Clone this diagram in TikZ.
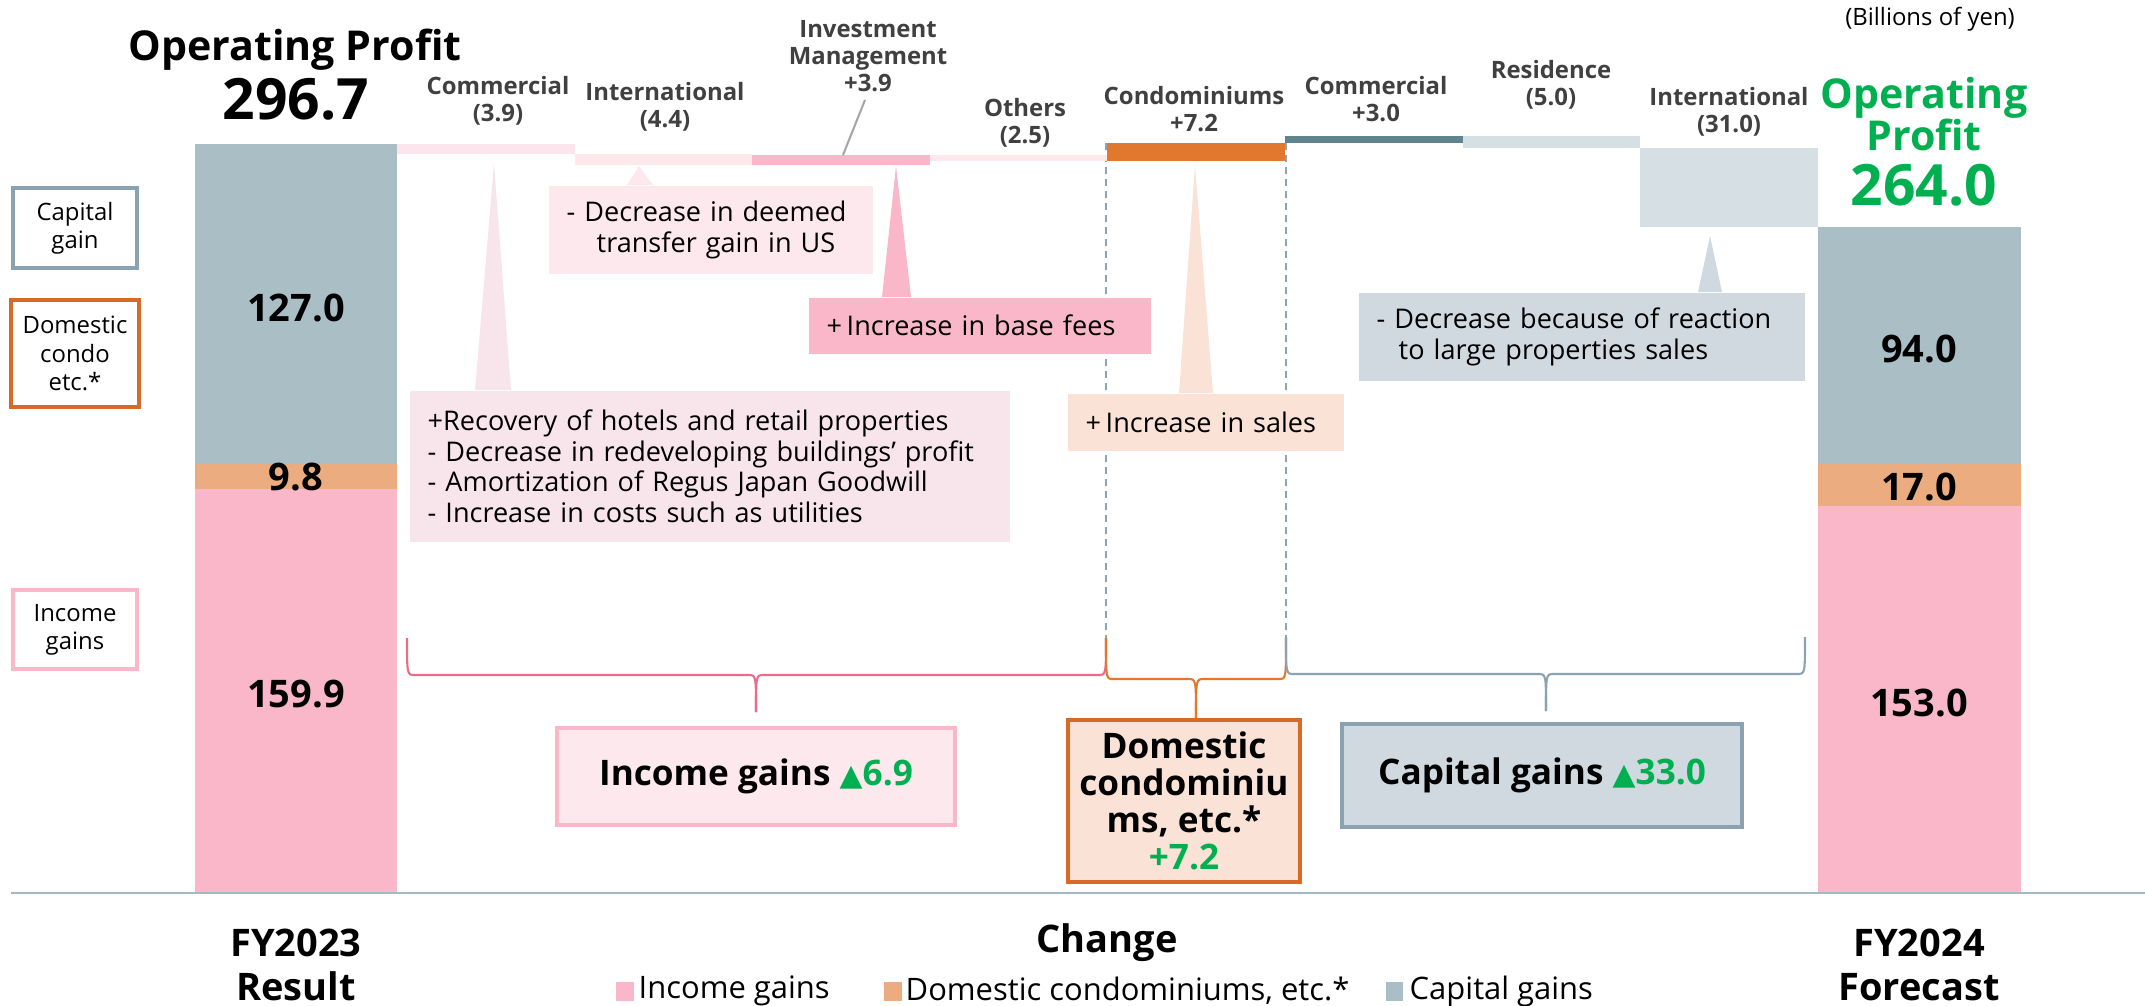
\documentclass[tikz,border=0pt]{standalone}
\usepackage{fontspec}
\setmainfont{Open Sans}
\newfontfamily\symbfont{DejaVu Sans}
\usepackage{xcolor}
\usepackage{tikz}
\usetikzlibrary{calc}
\usetikzlibrary{positioning}

\definecolor{incpink}{HTML}{F9B7C9}
\definecolor{condoor}{HTML}{EBAD80}
\definecolor{capgray}{HTML}{AABEC6}
\definecolor{palepink}{HTML}{FCE5EC}
\definecolor{compink}{HTML}{F8E5EB}
\definecolor{intlpink}{HTML}{FDE8EE}
\definecolor{condobar}{HTML}{E2782D}
\definecolor{condofill}{HTML}{FAE3D6}
\definecolor{condoline}{HTML}{D86A26}
\definecolor{comdark}{HTML}{60838E}
\definecolor{palegray}{HTML}{D6DFE3}
\definecolor{capfill}{HTML}{CFD9DF}
\definecolor{capline}{HTML}{8AA2B2}
\definecolor{labgray}{HTML}{404040}
\definecolor{upgreen}{HTML}{00B050}
\definecolor{bracepink}{HTML}{EE6A8A}
\definecolor{basegray}{HTML}{A3B8C8}
\definecolor{dashgray}{HTML}{8EA3B3}

\begin{document}
\begin{tikzpicture}[x=0.01cm,y=-0.01cm,
    lbl/.style={font=\fontsize{6.8}{7.7}\selectfont\bfseries,text=labgray,align=center,inner sep=0},
    val/.style={font=\fontsize{10.8}{12}\selectfont\bfseries,inner sep=0},
    big/.style={font=\fontsize{11.7}{12}\selectfont\bfseries,inner sep=0,align=center},
    huge/.style={font=\fontsize{16.2}{18}\selectfont\bfseries,inner sep=0},
    keybox/.style={draw,line width=1.1pt,align=center,minimum width=1.24cm,font=\fontsize{6.8}{8}\selectfont},
    callout/.style={anchor=north west,inner xsep=0.18cm,inner ysep=0,align=left,font=\fontsize{7.7}{8.8}\selectfont},
    sumbox/.style={draw,line width=1.1pt,align=center,font=\fontsize{10}{10.5}\selectfont\bfseries},
    title/.style={font=\fontsize{10.8}{12.5}\selectfont\bfseries,align=center,inner sep=0},
    keytxt/.style={font=\fontsize{8.8}{10}\selectfont,anchor=west,inner sep=0},
    gbrace/.style={line width=0.6pt},
    dashln/.style={dashgray,line width=0.4pt,dash pattern=on 0.07cm off 0.05cm}]
    \useasboundingbox (0,0) rectangle (2145,1006);

    % guide lines of the condominium step
    \draw[dashln] (1106,143) -- (1106,638);
    \draw[dashln] (1286,143) -- (1286,638);

    % FY2023 bar
    \fill[capgray] (195,144) rectangle (397,464);
    \fill[condoor] (195,464) rectangle (397,489);
    \fill[incpink] (195,489) rectangle (397,892);
    \node[val] (capA) at (296,308) {127.0};
    \node[val] (condoA) at (296,477) {9.8};
    \node[val] (incA) at (296,694) {159.9};
    \node[big] (opA) at (295,50) {Operating Profit};
    \node[huge] (sumA) at (296,99) {296.7};

    % FY2024 bar
    \fill[capgray] (1818,226.5) rectangle (2021,463.5);
    \fill[condoor] (1818,463.5) rectangle (2021,506.4);
    \fill[incpink] (1818,506.4) rectangle (2021,892);
    \node[val] (capB) at (1919,349) {94.0};
    \node[val] (condoB) at (1919,487) {17.0};
    \node[val] (incB) at (1919,703) {153.0};
    \node[big,text=upgreen,font=\fontsize{11.7}{12}\selectfont\bfseries] (opB) at (1924,114) {Operating\\Profit};
    \node[huge,text=upgreen] (sumB) at (1924,185) {264.0};
    \node[font=\fontsize{6.8}{8}\selectfont,inner sep=0] (unit) at (1930,19) {(Billions of yen)};

    % steps
    \fill[palepink] (397,144) rectangle (575,153.8);
    \fill[intlpink] (575,153.8) rectangle (752,164.9);
    \fill[incpink] (752,155.1) rectangle (930,164.9);
    \fill[intlpink] (930,155.1) rectangle (1107,161.4);
    \fill[condobar] (1107,143.2) rectangle (1285,161.4);
    \fill[comdark] (1285,135.7) rectangle (1463,143.2);
    \fill[palegray] (1463,135.7) rectangle (1640,148.3);
    \fill[palegray] (1640,148.3) rectangle (1818,226.5);

    \node[lbl] (comlab) at (498,101) {Commercial\\(3.9)};
    \node[lbl] (intlab) at (665,107) {International\\(4.4)};
    \node[lbl] (imlab) at (868,56) {Investment\\Management\\+3.9};
    \node[lbl] (othlab) at (1025,123) {Others\\(2.5)};
    \node[lbl] (condolab) at (1194,109) {Condominiums\\+7.2};
    \node[lbl] (comuplab) at (1376,99) {Commercial\\+3.0};
    \node[lbl] (reslab) at (1551,85) {Residence\\(5.0)};
    \node[lbl] (intdownlab) at (1729,112) {International\\(31.0)};
    \coordinate (imtop) at (843,155);
    \draw[black!35,line width=0.6pt,shorten <=0.08cm] (imlab.south) -- (imtop);

    % callouts
    \node[callout,fill=compink,minimum width=6cm,minimum height=1.51cm,text width=5.64cm] (comcall) at (409,390)
        {+Recovery of hotels and retail properties\\- Decrease in redeveloping buildings’ profit\\- Amortization of Regus Japan Goodwill\\- Increase in costs such as utilities};
    \coordinate (comtip) at (494,163);
    \fill[compink] ($(comcall.north west)+(66,0)$) -- (comtip) -- ($(comcall.north west)+(102,0)$) -- cycle;

    \node[callout,fill=intlpink,minimum width=3.24cm,minimum height=0.88cm,text width=2.88cm] (intcall) at (548,185)
        {- Decrease in deemed\\\hspace*{0.3cm}transfer gain in US};
    \coordinate (inttip) at (639,166);
    \fill[intlpink] ($(intcall.north west)+(79,0)$) -- (inttip) -- ($(intcall.north west)+(105,0)$) -- cycle;

    \node[callout,fill=incpink,minimum width=3.42cm,minimum height=0.56cm,text width=3.06cm] (imcall) at (808,297)
        {+\,Increase in base fees};
    \coordinate (imtip) at (896,166);
    \fill[incpink] ($(imcall.north west)+(74,0)$) -- (imtip) -- ($(imcall.north west)+(103,0)$) -- cycle;

    \node[callout,fill=condofill,minimum width=2.76cm,minimum height=0.57cm,text width=2.40cm] (condocall) at (1067,393)
        {+\,Increase in sales};
    \coordinate (condotip) at (1195,165);
    \fill[condofill] ($(condocall.north west)+(112,0)$) -- (condotip) -- ($(condocall.north west)+(146,0)$) -- cycle;

    \node[callout,fill=capfill,minimum width=4.46cm,minimum height=0.88cm,text width=4.10cm] (capcall) at (1358,292)
        {- Decrease because of reaction\\\hspace*{0.22cm}to large properties sales};
    \coordinate (captip) at (1710,236);
    \fill[capfill] ($(capcall.north west)+(340,0)$) -- (captip) -- ($(capcall.north west)+(364,0)$) -- cycle;

    % braces
    \draw[bracepink,gbrace] (407,638) .. controls (407,675) .. (415,675) -- (748,675) .. controls (756,675) .. (756,712);
    \draw[bracepink,gbrace] (1106,638) .. controls (1106,675) .. (1098,675) -- (764,675) .. controls (756,675) .. (756,712);
    \draw[condobar,gbrace] (1106,638) .. controls (1106,679) .. (1113,679) -- (1188,679) .. controls (1196,679) .. (1196,718);
    \draw[condobar,gbrace] (1286,638) .. controls (1286,679) .. (1279,679) -- (1204,679) .. controls (1196,679) .. (1196,718);
    \draw[capline,gbrace] (1286,637) .. controls (1286,674) .. (1294,674) -- (1538,674) .. controls (1546,674) .. (1546,711);
    \draw[capline,gbrace] (1805,637) .. controls (1805,674) .. (1797,674) -- (1554,674) .. controls (1546,674) .. (1546,711);

    % totals of the change
    \node[sumbox,draw=incpink,fill=intlpink,minimum width=3.98cm,minimum height=0.97cm] (incsum) at (756,776.5)
        {Income gains \textcolor{upgreen}{{\symbfont\fontsize{8.5}{10}\selectfont ▲}6.9}};
    \node[sumbox,draw=condoline,fill=condofill,minimum width=2.32cm,minimum height=1.54cm] (condosum) at (1184,801)
        {Domestic\\condominiu\\ms, etc.*\\\textcolor{upgreen}{+7.2}};
    \node[sumbox,draw=capline,fill=capfill,minimum width=3.99cm,minimum height=1.03cm] (capsum) at (1542,775.5)
        {Capital gains \textcolor{upgreen}{{\symbfont\fontsize{8.5}{10}\selectfont ▲}33.0}};

    % key boxes
    \node[keybox,draw=capline,minimum height=0.8cm] (keycap) at (75,228) {Capital\\gain};
    \node[keybox,draw=condoline,minimum height=1.07cm] (keycondo) at (75,353.5) {Domestic\\condo\\etc.*};
    \node[keybox,draw=incpink,minimum height=0.79cm] (keyinc) at (75,629.5) {Income\\gains};

    % axis and titles
    \draw[basegray,line width=0.6pt] (11,893) -- (2145,893);
    \node[title] (fyA) at (296,965) {FY2023\\Result};
    \node[title] (chg) at (1107,943) {Change};
    \node[title] (fyB) at (1919,965) {FY2024\\Forecast};

    % legend
    \fill[incpink] (616,982) rectangle (634,1001);
    \node[keytxt] (leginc) at (638,991) {Income gains};
    \fill[condoor] (884,982) rectangle (902,1001);
    \node[keytxt] (legcondo) at (905,991) {Domestic condominiums, etc.*};
    \fill[capgray] (1386,982) rectangle (1403,1001);
    \node[keytxt] (legcap) at (1409,991) {Capital gains};
\end{tikzpicture}
\end{document}
